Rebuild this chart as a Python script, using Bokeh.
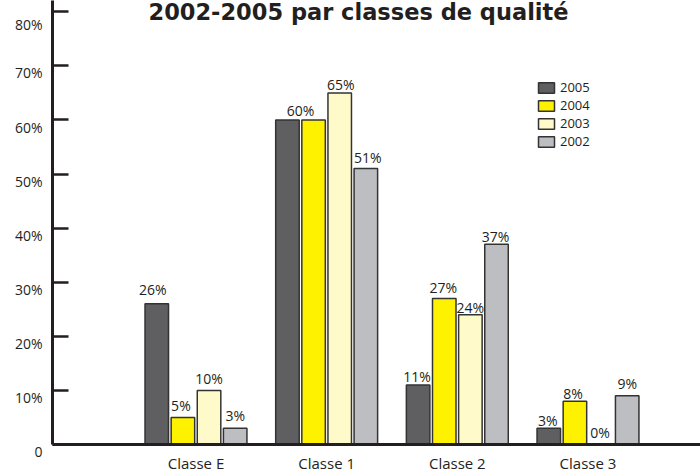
from bokeh.plotting import figure
from bokeh.models import ColumnDataSource, FixedTicker, Legend, LegendItem, Label
from bokeh.core.properties import value
from bokeh.embed import file_html
from bokeh.resources import INLINE

# ---- data ----
categories = ["Classe E", "Classe 1", "Classe 2", "Classe 3"]
years = ["2005", "2004", "2003", "2002"]
v2005 = [26, 60, 11, 3]
v2004 = [5, 60, 27, 8]
v2003 = [10, 65, 24, 0]
v2002 = [3, 51, 37, 9]
y_ticks = [0, 10, 20, 30, 40, 50, 60, 70, 80]
y_tick_labels = ["0", "10%", "20%", "30%", "40%", "50%", "60%", "70%", "80%"]
title_text = "2002-2005 par classes de qualité"

series = [v2005, v2004, v2003, v2002]

# ---- styles ----
colors = ["#5f5f61", "#fff200", "#fffac9", "#bcbec2"]
offsets = [-0.3, -0.1, 0.1, 0.3]
bar_w = 0.18
ink = "#231f20"
# per-label pixel nudges (x, y) and visibility, per series then category
lab_dx = [[-4, 0, -1, -1], [-2, -13, -1, -2], [0, 1, 0, -1], [0, 2, -1, 0]]
lab_dy = [[-9, -4, -3, -3], [-7, -4, -6, -3], [-7, -3, -2, -7], [-8, -6, -3, -7]]
lab_show = [[1, 0, 1, 1], [1, 1, 1, 1], [1, 1, 1, 1], [1, 1, 1, 1]]
dy_fix = -5

p = figure(width=700, height=475, x_range=(-1.098, 3.861), y_range=(0, 82.08),
           output_backend="svg", toolbar_location=None,
           min_border_left=52, min_border_right=0, min_border_top=0, min_border_bottom=29)
p.outline_line_color = None
p.xgrid.visible = False
p.ygrid.visible = False
p.background_fill_color = "white"
p.border_fill_color = "white"

items = []
tx, ty, tt, tdx, tdy = [], [], [], [], []
for s, vals in enumerate(series):
    xs = [i + offsets[s] for i in range(len(categories))]
    src = ColumnDataSource(dict(x=xs, top=vals))
    r = p.vbar(x="x", top="top", width=bar_w, source=src, fill_color=colors[s],
               line_color="#333333", line_width=1.5)
    items.append(LegendItem(label=years[s], renderers=[r]))
    for i, v in enumerate(vals):
        if lab_show[s][i]:
            tx.append(xs[i]); ty.append(v); tt.append(f"{v}%")
            tdx.append(lab_dx[s][i]); tdy.append(lab_dy[s][i] + dy_fix)

lsrc = ColumnDataSource(dict(x=tx, y=ty, t=tt, dx=tdx, dy=tdy))
p.text(x="x", y="y", text="t", source=lsrc, x_offset="dx", y_offset="dy",
       text_align="center", text_baseline="alphabetic",
       text_font=value("Open Sans"), text_font_size="14px", text_color=ink)

legend = Legend(items=items, location=(484, 294), orientation="vertical",
                glyph_width=20, glyph_height=13, label_height=13, spacing=0,
                label_standoff=4, padding=0, margin=0,
                label_text_font="Open Sans", label_text_font_size="13px",
                label_text_color=ink, border_line_color=None,
                background_fill_alpha=0)
p.add_layout(legend)

p.add_layout(Label(x=1.244, y=79.88, text=title_text, text_align="center",
                   text_baseline="alphabetic", text_font="DejaVu Sans",
                   text_font_style="bold", text_font_size="22.5px", text_color=ink))

# y axis (labels sit just below their tick, as in the original)
yax = p.yaxis[0]
yax.ticker = FixedTicker(ticks=y_ticks)
yax.major_label_overrides = {t: "\n" + l for t, l in zip(y_ticks, y_tick_labels)}
yax.axis_line_width = 3
yax.axis_line_color = ink
yax.major_tick_in = 16
yax.major_tick_out = 0
yax.major_tick_line_width = 2.5
yax.major_tick_line_color = ink
yax.minor_tick_line_color = None
yax.major_label_standoff = 10
yax.major_label_text_line_height = 0.75
yax.major_label_text_font = "Open Sans"
yax.major_label_text_font_size = "14px"
yax.major_label_text_color = ink

# x axis
xax = p.xaxis[0]
xax.ticker = FixedTicker(ticks=list(range(len(categories))))
xax.major_label_overrides = {i: c for i, c in enumerate(categories)}
xax.axis_line_width = 3
xax.axis_line_color = ink
xax.major_tick_in = 0
xax.major_tick_out = 0
xax.minor_tick_line_color = None
xax.major_label_standoff = 8
xax.major_label_text_font = "Open Sans"
xax.major_label_text_font_size = "15px"
xax.major_label_text_color = ink

open("out.html", "w").write(file_html(p, INLINE))
